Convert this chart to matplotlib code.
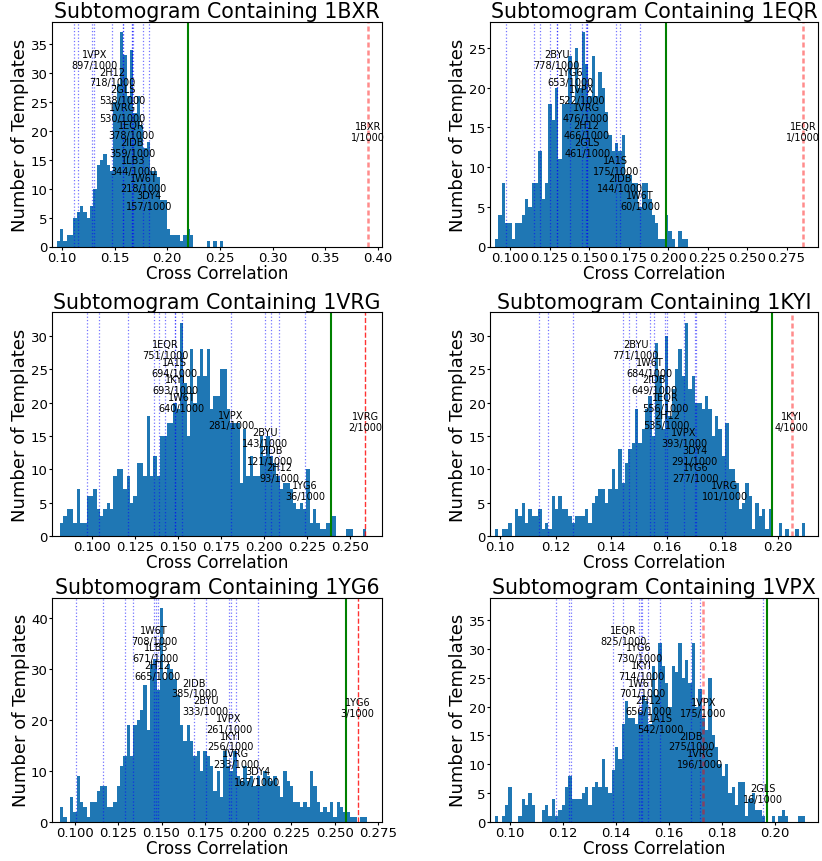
import numpy as np
import matplotlib.pyplot as plt

# ---------------- data ----------------
# each panel: histogram bins (start, width, counts), the other templates'
# marks (name, rank out of 1000, cross correlation), unlabeled marks,
# the green cutoff line and the true template score (red)

# 1BXR
bxr_start, bxr_width = 0.09493, 0.003166
bxr_counts = [1, 3, 1, 2, 2, 5, 6, 7, 6, 5, 7, 10, 14, 15, 16, 14, 13, 25, 28, 37, 33,
              26, 34, 23, 26, 21, 17, 18, 13, 13, 12, 8, 8, 3, 2, 2, 2, 1, 2, 3, 2,
              0, 0, 0, 0, 1, 0, 1, 0, 1]
bxr_names = ["1VPX", "2H12", "2GLS", "1VRG", "1EQR", "2IDB", "1LB3", "1W6T", "3DY4"]
bxr_ranks = [897, 718, 538, 530, 378, 359, 344, 218, 157]
bxr_marks = [0.1307, 0.1478, 0.1577, 0.1577, 0.1662, 0.1669, 0.1677, 0.1773, 0.1827]
bxr_other = [0.1113, 0.1149, 0.1288]
bxr_green, bxr_true, bxr_true_rank = 0.2194, 0.3903, 1

# 1EQR
eqr_start, eqr_width = 0.09051, 0.00211
eqr_counts = [1, 4, 8, 3, 3, 1, 3, 3, 4, 6, 5, 8, 8, 12, 6, 8, 18, 16, 20, 11,
              18, 18, 24, 18, 25, 20, 27, 23, 19, 24, 19, 22, 20, 17, 14, 12, 13, 12, 14, 9,
              9, 8, 8, 5, 8, 8, 6, 4, 3, 1, 1, 4, 2, 1, 0, 2, 1, 1]
eqr_names = ["2BYU", "1YG6", "1VPX", "1VRG", "2H12", "2GLS", "1A1S", "2IDB", "1W6T"]
eqr_ranks = [778, 653, 522, 476, 466, 461, 175, 144, 60]
eqr_marks = [0.1295, 0.1382, 0.1454, 0.1481, 0.1485, 0.1489, 0.1669, 0.1698, 0.1823]
eqr_other = [0.0975, 0.1154, 0.1190, 0.1255, 0.1300]
eqr_green, eqr_true, eqr_true_rank = 0.1987, 0.2853, 1

# 1VRG
vrg_start, vrg_width = 0.0814, 0.001936
vrg_counts = [2, 3, 4, 4, 2, 7, 2, 2, 6, 6, 7, 4, 3, 4, 5, 4, 9, 10, 10, 7,
              9, 5, 6, 11, 11, 9, 18, 9, 12, 9, 15, 15, 17, 17, 20, 19, 32, 23, 15, 28,
              20, 24, 28, 24, 28, 19, 21, 21, 25, 25, 19, 17, 17, 17, 8, 16, 9,
              12, 9, 9, 15, 12, 15, 12, 11, 9, 7, 8, 8, 7, 5, 4, 5, 4, 10, 2, 4,
              2, 1, 1, 2, 3, 3, 0, 0, 0, 1, 1, 0, 0, 0, 1]
vrg_names = ["1EQR", "1A1S", "1KYI", "1W6T", "1VPX", "2BYU", "2IDB", "2H12", "1YG6"]
vrg_ranks = [751, 694, 693, 640, 281, 143, 121, 93, 36]
vrg_marks = [0.1424, 0.1481, 0.1485, 0.1521, 0.1808, 0.2006, 0.2038, 0.2088, 0.2238]
vrg_other = [0.0969, 0.1043, 0.1212, 0.1362, 0.1392]
vrg_green, vrg_true, vrg_true_rank = 0.2388, 0.2588, 2

# 1KYI
kyi_start, kyi_width = 0.098202, 0.0012
kyi_counts = [1, 0, 1, 1, 2, 0, 4, 3, 5, 2, 4, 3, 3, 4, 1, 2, 1, 6, 4, 6,
              4, 4, 3, 2, 3, 3, 3, 4, 2, 5, 6, 7, 7, 5, 7, 10, 7, 13, 8, 11,
              13, 14, 19, 14, 16, 19, 21, 15, 29, 24, 16, 30, 18, 22, 25, 28, 24, 32, 22, 24,
              20, 20, 19, 21, 19, 15, 18, 16, 12, 17, 10, 10, 8, 4, 5, 8, 6, 1, 5, 3,
              4, 1, 4, 0, 0, 2, 0, 1, 0, 0, 1, 0, 2]
kyi_names = ["2BYU", "1W6T", "2IDB", "1EQR", "2H12", "1VPX", "3DY4", "1YG6", "1VRG"]
kyi_ranks = [771, 684, 649, 556, 535, 393, 291, 277, 101]
kyi_marks = [0.1488, 0.1538, 0.1554, 0.1595, 0.1600, 0.1662, 0.1700, 0.1705, 0.1809]
kyi_other = [0.1141, 0.1174, 0.1264, 0.1441, 0.1464]
kyi_green, kyi_true, kyi_true_rank = 0.1977, 0.2049, 4

# 1YG6
yg6_start, yg6_width = 0.091334, 0.0019257
yg6_counts = [3, 1, 0, 5, 2, 9, 4, 3, 1, 4, 4, 6, 7, 7, 3, 3, 4, 7, 11, 13,
              19, 13, 19, 20, 22, 27, 18, 31, 32, 26, 42, 28, 31, 30, 28, 25, 19, 16, 19, 16,
              13, 14, 10, 14, 13, 11, 6, 10, 5, 14, 11, 10, 14, 9, 8, 11, 8, 9, 7, 9,
              7, 10, 9, 8, 9, 7, 5, 10, 8, 7, 4, 4,
              3, 4, 3, 10, 7, 4, 2, 3, 2, 4, 1, 4, 3, 2, 2, 1, 1, 0, 1, 1]
yg6_names = ["1W6T", "1LB3", "2H12", "2IDB", "2BYU", "1VPX", "1KYI", "1VRG", "3DY4"]
yg6_ranks = [708, 671, 665, 385, 333, 261, 256, 233, 167]
yg6_marks = [0.1458, 0.1468, 0.1478, 0.1689, 0.1755, 0.1890, 0.1899, 0.1930, 0.2055]
yg6_other = [0.1006, 0.1164, 0.1289, 0.1333]
yg6_green, yg6_true, yg6_true_rank = 0.2566, 0.2633, 3

# 1VPX
vpx_start, vpx_width = 0.094339, 0.001258
vpx_counts = [1, 0, 1, 3, 6, 0, 0, 1, 4, 3, 5, 3, 0, 0, 2, 3, 1, 4, 1, 2,
              3, 6, 8, 4, 4, 4, 5, 6, 3, 6, 7, 6, 11, 6, 5, 9, 13, 11, 17, 21,
              18, 18, 17, 19, 22, 21, 17, 27, 22, 31, 27, 24, 20, 27, 26, 31, 25, 28, 24,
              31, 20, 23, 18, 16, 25, 15, 13, 10, 8, 10, 5, 6, 3, 7, 7, 1, 4, 5, 2,
              2, 1, 0, 0, 1, 0, 1, 2, 1, 0, 0, 0, 1, 1]
vpx_names = ["1EQR", "1YG6", "1KYI", "1W6T", "2H12", "1A1S", "2IDB", "1VRG", "2GLS"]
vpx_ranks = [825, 730, 714, 701, 656, 542, 275, 196, 16]
vpx_marks = [0.1428, 0.1487, 0.1495, 0.1498, 0.1522, 0.1567, 0.1684, 0.1717, 0.1953]
vpx_other = [0.1174, 0.1224, 0.1229, 0.1387]
vpx_green, vpx_true, vpx_true_rank = 0.1969, 0.1730, 175

# ---------------- figure ----------------
W, H = 822, 862
fig = plt.figure(figsize=(W / 100, H / 100), dpi=100)


def px_axes(x0, y0, x1, y1):
    # axes box given in pixels from the top-left corner
    return fig.add_axes([x0 / W, 1 - y1 / H, (x1 - x0) / W, (y1 - y0) / H])


cols = [(52, 382), (490, 818)]
rows = [(22.5, 247.5), (313, 537), (598.5, 823)]

panels = [
    ("1BXR", bxr_start, bxr_width, bxr_counts, bxr_names, bxr_ranks, bxr_marks, bxr_other,
     bxr_green, bxr_true, bxr_true_rank, (0.0905, 0.4039), np.arange(0.10, 0.401, 0.05), None),
    ("1EQR", eqr_start, eqr_width, eqr_counts, eqr_names, eqr_ranks, eqr_marks, eqr_other,
     eqr_green, eqr_true, eqr_true_rank, (0.0873, 0.2949), np.arange(0.100, 0.276, 0.025), None),
    ("1VRG", vrg_start, vrg_width, vrg_counts, vrg_names, vrg_ranks, vrg_marks, vrg_other,
     vrg_green, vrg_true, vrg_true_rank, (0.07674, 0.2686), np.arange(0.100, 0.251, 0.025), None),
    ("1KYI", kyi_start, kyi_width, kyi_counts, kyi_names, kyi_ranks, kyi_marks, kyi_other,
     kyi_green, kyi_true, kyi_true_rank, (0.0964, 0.2144), np.arange(0.10, 0.201, 0.02), None),
    ("1YG6", yg6_start, yg6_width, yg6_counts, yg6_names, yg6_ranks, yg6_marks, yg6_other,
     yg6_green, yg6_true, yg6_true_rank, (0.08671, 0.2774), np.arange(0.100, 0.276, 0.025), None),
    ("1VPX", vpx_start, vpx_width, vpx_counts, vpx_names, vpx_ranks, vpx_marks, vpx_other,
     vpx_green, vpx_true, vpx_true_rank, (0.09245, 0.2162), np.arange(0.10, 0.201, 0.02), 38.9),
]
pink_red = {"1BXR", "1EQR", "1KYI", "1VPX"}

for i, p in enumerate(panels):
    (name, start, width, counts, names, ranks, marks, other,
     green, true_x, true_rank, xlim, ticks, ytop) = p
    x0, x1 = cols[i % 2]
    y0, y1 = rows[i // 2]
    ax = px_axes(x0, y0, x1, y1)

    lefts = start + width * np.arange(len(counts))
    ax.bar(lefts, counts, width=width, align='edge', color='#1f77b4', linewidth=0)

    trans = ax.get_xaxis_transform()
    for x in other:
        ax.axvline(x, color='blue', ls=':', lw=0.9, alpha=0.55)
    # the 1VPX panel skips one slot (the true template's own rank)
    slots = list(range(len(names)))
    if name == "1VPX":
        slots = [0, 1, 2, 3, 4, 5, 6, 7, 9]
    for n, r, x, k in zip(names, ranks, marks, slots):
        ax.axvline(x, color='blue', ls=':', lw=0.9, alpha=0.55)
        ax.text(x, 0.832 - 0.0785 * k, f"{n}\n{r}/1000", transform=trans,
                ha='center', va='center', fontsize=7, linespacing=1.1)

    ax.axvline(green, color='green', lw=1.5)
    if name in pink_red:
        ax.axvline(true_x, color='red', ls=(0, (2, 1.2)), lw=1.8, alpha=0.45)
    else:
        ax.axvline(true_x, color='red', ls='--', lw=1.0, alpha=0.8)
    ax.text(true_x, 0.51, f"{name}\n{true_rank}/1000", transform=trans,
            ha='center', va='center', fontsize=7, linespacing=1.1)

    ax.set_xlim(*xlim)
    if ytop is not None:
        ax.set_ylim(0, ytop)
    ax.set_xticks(ticks)
    ax.tick_params(labelsize=9.5, length=2, pad=1)
    ax.set_title(f"Subtomogram Containing {name}", fontsize=14.8, pad=3)
    ax.set_xlabel("Cross Correlation", fontsize=12, labelpad=0)
    ax.set_ylabel("Number of Templates", fontsize=13, labelpad=1)

fig.savefig("out.png", dpi=100)
